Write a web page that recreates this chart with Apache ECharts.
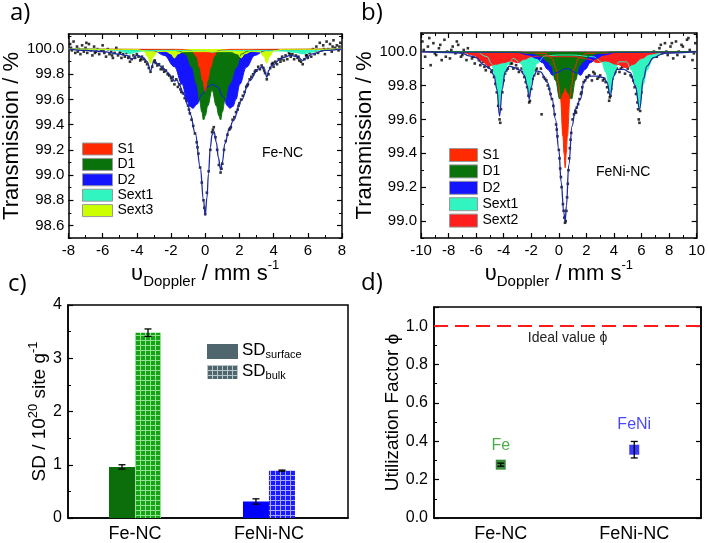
<!DOCTYPE html>
<html>
<head>
<meta charset="utf-8">
<script src="https://cdn.jsdelivr.net/npm/echarts@6/dist/echarts.min.js"></script>
<style>
html, body { margin: 0; padding: 0; background: #fff; }
#chart { width: 708px; height: 543px; }
</style>
</head>
<body>
<div id="chart"></div>
<script>
// ---------- panel a) Fe-NC spectrum ----------
var aD2 = [[-8,100],[-3.5,99.997],[-3,99.988],[-2.4,99.95],[-1.8,99.86],[-1.35,99.72],[-1.06,99.59],[-0.9,99.545],[-0.72,99.53],[-0.5,99.56],[-0.2,99.64],[0.15,99.7],[0.43,99.72],[0.71,99.7],[1.06,99.62],[1.3,99.55],[1.44,99.53],[1.62,99.545],[1.8,99.6],[2.02,99.72],[2.4,99.855],[2.9,99.95],[3.5,99.988],[4.2,99.997],[8,100]];
var aD1 = [[-8,100],[-2,99.995],[-1.5,99.985],[-1.16,99.96],[-0.77,99.855],[-0.49,99.72],[-0.33,99.59],[-0.2,99.5],[-0.1,99.437],[0,99.47],[0.15,99.55],[0.4,99.675],[0.65,99.55],[0.8,99.47],[0.9,99.437],[1,99.5],[1.15,99.59],[1.4,99.72],[1.83,99.855],[2.1,99.96],[2.5,99.985],[3,99.995],[8,100]];
var aS1 = [[-8,100],[-1.5,99.998],[-1,99.992],[-0.77,99.985],[-0.5,99.94],[-0.33,99.855],[-0.14,99.75],[0,99.665],[0.13,99.75],[0.32,99.855],[0.5,99.94],[0.7,99.985],[1,99.992],[1.5,99.998],[8,100]];
var aSext1 = [[-8,100],[-6,99.998],[-5.2,99.99],[-4.7,99.975],[-4.4,99.962],[-4.1,99.975],[-3.6,99.985],[-2.5,99.99],[0,99.985],[0.4,99.975],[0.8,99.985],[2.5,99.99],[4.5,99.985],[5.2,99.975],[5.7,99.962],[6.2,99.975],[6.7,99.99],[7.3,99.998],[8,100]];
var aSext3 = [[-8,100],[-4,99.998],[-3.6,99.985],[-3.35,99.94],[-3.2,99.885],[-3.05,99.94],[-2.8,99.98],[-2.3,99.982],[-2,99.962],[-1.8,99.93],[-1.6,99.962],[-1.3,99.98],[0,99.98],[1.5,99.98],[1.9,99.962],[2.1,99.93],[2.3,99.962],[2.7,99.982],[3.2,99.978],[3.45,99.94],[3.6,99.89],[3.75,99.94],[4,99.985],[4.5,99.998],[8,100]];
var aFit = [[-8,100],[-7,99.99],[-6,99.98],[-5,99.96],[-4.6,99.95],[-4.3,99.92],[-4,99.95],[-3.6,99.93],[-3.4,99.9],[-3.2,99.83],[-3,99.9],[-2.8,99.885],[-2.5,99.85],[-2.2,99.815],[-1.95,99.775],[-1.8,99.745],[-1.65,99.755],[-1.5,99.71],[-1.26,99.64],[-1,99.55],[-0.87,99.48],[-0.58,99.33],[-0.29,99.06],[-0.1,98.8],[0,98.68],[0.1,98.82],[0.19,99.01],[0.3,99.22],[0.4,99.32],[0.52,99.345],[0.65,99.26],[0.77,99.14],[0.9,99.04],[1,99.1],[1.15,99.25],[1.4,99.36],[1.63,99.43],[2.1,99.59],[2.6,99.75],[3.08,99.84],[3.37,99.86],[3.5,99.82],[3.6,99.775],[3.72,99.83],[3.9,99.87],[4.5,99.93],[5,99.95],[5.4,99.94],[5.7,99.91],[6,99.94],[6.2,99.96],[7,99.99],[8,100]];
var aPoints = [[-7.9,100.04],[-7.8,99.99],[-7.7,100.06],[-7.6,99.97],[-7.5,100.02],[-7.4,100.0],[-7.3,99.96],[-7.2,100.03],[-7.1,99.98],[-7.0,100.01],[-6.9,99.97],[-6.8,100.04],[-6.7,99.99],[-6.6,99.95],[-6.5,100.02],[-6.4,99.98],[-6.3,100.0],[-6.2,99.96],[-6.1,99.99],[-6.0,100.03],[-5.9,99.97],[-5.8,99.94],[-5.7,100.0],[-5.6,99.96],[-5.5,99.98],[-5.4,99.93],[-5.3,99.97],[-5.2,100.01],[-5.1,99.95],[-5.0,99.97],[-4.9,99.93],[-4.8,99.96],[-4.7,99.94],[-4.6,99.97],[-4.5,99.93],[-4.4,99.9],[-4.3,99.92],[-4.2,99.95],[-4.1,99.93],[-4.0,99.96],[-3.9,99.94],[-3.8,99.91],[-3.7,99.94],[-3.6,99.92],[-3.5,99.9],[-3.4,99.88],[-3.3,99.85],[-3.2,99.82],[-3.1,99.86],[-3.0,99.9],[-2.9,99.89],[-2.8,99.87],[-2.7,99.88],[-2.6,99.84],[-2.5,99.86],[-2.4,99.82],[-2.3,99.83],[-2.2,99.8],[-2.1,99.79],[-2.0,99.77],[-1.9,99.78],[-1.8,99.72],[-1.7,99.76],[-1.6,99.7],[-1.5,99.72],[-1.4,99.66],[-1.3,99.65],[-1.2,99.61],[-1.1,99.59],[-1.0,99.55],[-0.9,99.49],[-0.8,99.44],[-0.7,99.39],[-0.6,99.33],[-0.5,99.26],[-0.4,99.17],[-0.3,99.06],[-0.2,98.94],[-0.1,98.8],[0.0,98.69],[0.1,98.86],[0.2,99.03],[0.3,99.2],[0.4,99.34],[0.5,99.38],[0.6,99.3],[0.7,99.2],[0.8,99.08],[0.9,99.02],[1.0,99.09],[1.1,99.2],[1.2,99.27],[1.3,99.32],[1.4,99.36],[1.5,99.38],[1.6,99.44],[1.7,99.46],[1.8,99.5],[1.9,99.52],[2.0,99.57],[2.1,99.6],[2.2,99.63],[2.3,99.66],[2.4,99.7],[2.5,99.72],[2.6,99.76],[2.7,99.78],[2.8,99.8],[2.9,99.82],[3.0,99.83],[3.1,99.86],[3.2,99.84],[3.3,99.87],[3.4,99.85],[3.5,99.81],[3.6,99.76],[3.7,99.8],[3.8,99.85],[3.9,99.88],[4.0,99.86],[4.1,99.9],[4.2,99.88],[4.3,99.92],[4.4,99.9],[4.5,99.94],[4.6,99.91],[4.7,99.95],[4.8,99.92],[4.9,99.97],[5.0,99.94],[5.1,99.96],[5.2,99.92],[5.3,99.95],[5.4,99.93],[5.5,99.91],[5.6,99.9],[5.7,99.88],[5.8,99.92],[5.9,99.95],[6.0,99.93],[6.1,99.97],[6.2,99.94],[6.3,100.0],[6.4,99.96],[6.5,100.02],[6.6,99.97],[6.7,100.05],[6.8,99.99],[6.9,100.03],[7.0,99.96],[7.1,100.06],[7.2,100.0],[7.3,100.04],[7.4,99.98],[7.5,100.07],[7.6,100.01],[7.7,100.03],[7.8,99.99],[7.9,100.05],
  [-7.85,100.01],[-7.45,99.98],[-6.95,100.05],[-6.45,99.97],[-5.95,99.99],[-5.45,99.95],[-4.95,99.98],[-4.45,99.94],[-3.75,99.92],[-2.95,99.91],[-2.45,99.84],[-1.95,99.75],[-1.45,99.68],[-0.95,99.52],[-0.45,99.22],[-0.05,98.74],[0.45,99.36],[0.95,99.05],[1.45,99.37],[1.95,99.55],[2.45,99.71],[2.95,99.83],[3.45,99.83],[3.95,99.89],[4.45,99.92],[4.95,99.96],[5.45,99.94],[5.95,99.95],[6.45,99.99],[6.95,100.0],[7.45,100.02],[7.85,100.02]];
var aTicks = [98.6, 98.8, 99.0, 99.2, 99.4, 99.6, 99.8, 100.0];
var aMinor = [98.5, 98.7, 98.9, 99.1, 99.3, 99.5, 99.7, 99.9, 100.1];

// ---------- panel b) FeNi-NC spectrum ----------
var bSext1 = [[-10,100],[-6,99.998],[-5.2,99.97],[-4.9,99.93],[-4.6,99.85],[-4.45,99.76],[-4.34,99.68],[-4.2,99.76],[-4,99.85],[-3.75,99.92],[-3.3,99.96],[-2.75,99.93],[-2.45,99.86],[-2.15,99.75],[-1.9,99.86],[-1.6,99.93],[-1,99.975],[0,99.98],[1,99.98],[2.5,99.97],[3.1,99.94],[3.4,99.88],[3.73,99.75],[4.05,99.88],[4.35,99.94],[4.9,99.94],[5.3,99.89],[5.6,99.8],[5.86,99.66],[6.1,99.8],[6.4,99.89],[6.8,99.96],[7.5,99.995],[10,100]];
var bS1 = [[-10,100],[-1,99.99],[-0.5,99.96],[-0.2,99.9],[0,99.8],[0.12,99.72],[0.3,99.5],[0.38,99.4],[0.46,99.315],[0.54,99.4],[0.62,99.5],[0.8,99.72],[0.92,99.8],[1.12,99.9],[1.42,99.96],[2,99.99],[10,100]];
var bSext2 = [[-10,100],[-7,99.995],[-6.2,99.98],[-5.6,99.945],[-5.1,99.915],[-4.6,99.925],[-4,99.935],[-3.5,99.945],[-3,99.935],[-2.5,99.955],[-2,99.97],[-1.2,99.975],[0,99.97],[1.2,99.97],[2.2,99.955],[2.8,99.935],[3.4,99.945],[4.2,99.925],[4.9,99.905],[5.4,99.925],[6,99.96],[6.6,99.985],[7.4,99.995],[10,100]];
var bD2 = [[-10,100],[-3,99.995],[-2.2,99.98],[-1.6,99.96],[-1.2,99.935],[-0.8,99.895],[-0.45,99.86],[-0.25,99.875],[0.6,99.9],[1.3,99.875],[1.57,99.86],[1.9,99.895],[2.3,99.935],[2.7,99.96],[3.3,99.98],[4.1,99.995],[10,100]];
var bD1 = [[-10,100],[-3,99.998],[-2,99.99],[-1.3,99.975],[-0.8,99.94],[-0.55,99.915],[-0.24,99.83],[0.07,99.72],[0.27,99.755],[0.46,99.79],[0.68,99.755],[0.92,99.72],[1.2,99.83],[1.5,99.915],[1.75,99.94],[2.2,99.975],[2.9,99.99],[3.9,99.998],[10,100]];
var bFit = [[-10,100],[-8,99.995],[-7,99.99],[-6.5,99.975],[-6,99.965],[-5.5,99.925],[-5,99.9],[-4.7,99.86],[-4.5,99.78],[-4.3,99.62],[-4.1,99.78],[-3.9,99.88],[-3.6,99.915],[-3.2,99.905],[-2.8,99.89],[-2.5,99.86],[-2.3,99.8],[-2.15,99.72],[-2,99.79],[-1.8,99.86],[-1.6,99.886],[-1.33,99.88],[-0.84,99.82],[-0.48,99.72],[-0.24,99.6],[0,99.42],[0.17,99.23],[0.36,99.05],[0.46,99.0],[0.55,99.09],[0.72,99.33],[0.96,99.56],[1.2,99.66],[1.57,99.72],[1.81,99.82],[2.17,99.856],[2.77,99.856],[3.25,99.846],[3.49,99.82],[3.73,99.74],[3.98,99.856],[4.22,99.895],[4.7,99.895],[5.18,99.876],[5.54,99.8],[5.86,99.66],[6.14,99.84],[6.39,99.915],[6.87,99.965],[7.6,99.99],[10,100]];
var bPoints = [[-9.9,100.06],[-9.7,99.97],[-9.5,100.03],[-9.3,99.92],[-9.1,100.05],[-8.9,99.98],[-8.7,100.02],[-8.5,99.95],[-8.3,100.07],[-8.1,100.0],[-7.9,99.96],[-7.7,100.03],[-7.5,99.99],[-7.3,100.04],[-7.1,99.97],[-6.9,100.01],[-6.7,99.95],[-6.5,99.99],[-6.3,99.96],[-6.1,99.93],[-5.9,99.97],[-5.7,99.92],[-5.5,99.94],[-5.3,99.89],[-5.1,99.91],[-4.9,99.88],[-4.7,99.85],[-4.6,99.81],[-4.5,99.76],[-4.4,99.68],[-4.3,99.6],[-4.2,99.66],[-4.1,99.76],[-4.0,99.83],[-3.9,99.87],[-3.7,99.9],[-3.5,99.93],[-3.3,99.9],[-3.1,99.92],[-2.9,99.88],[-2.7,99.9],[-2.5,99.85],[-2.4,99.82],[-2.3,99.79],[-2.2,99.74],[-2.1,99.71],[-2.0,99.78],[-1.9,99.84],[-1.8,99.86],[-1.7,99.89],[-1.5,99.87],[-1.25,99.63],[-1.3,99.9],[-1.1,99.85],[-0.9,99.83],[-0.7,99.78],[-0.6,99.75],[-0.5,99.72],[-0.4,99.68],[-0.3,99.63],[-0.2,99.57],[-0.1,99.5],[0.0,99.42],[0.1,99.31],[0.2,99.2],[0.3,99.1],[0.4,99.02],[0.5,99.0],[0.6,99.14],[0.7,99.3],[0.8,99.43],[0.9,99.52],[1.0,99.6],[1.1,99.63],[1.2,99.65],[1.3,99.67],[1.4,99.69],[1.5,99.72],[1.6,99.75],[1.7,99.79],[1.8,99.82],[1.9,99.83],[2.0,99.85],[2.2,99.86],[2.4,99.83],[2.6,99.87],[2.8,99.84],[3.0,99.86],[3.2,99.83],[3.4,99.82],[3.5,99.79],[3.6,99.76],[3.7,99.73],[3.8,99.78],[3.9,99.84],[4.0,99.87],[4.2,99.9],[4.4,99.88],[4.6,99.91],[4.8,99.87],[5.0,99.9],[5.2,99.86],[5.4,99.83],[5.5,99.79],[5.6,99.75],[5.7,99.7],[5.8,99.6],[5.9,99.65],[6.0,99.76],[6.1,99.83],[6.3,99.9],[6.5,99.93],[6.7,99.96],[6.9,100.0],[7.1,99.97],[7.3,100.02],[7.5,99.99],[7.7,100.05],[7.9,99.98],[8.1,100.03],[8.3,99.96],[8.5,100.06],[8.7,100.0],[8.9,100.04],[9.1,99.97],[9.3,100.07],[9.5,100.01],[9.7,99.95],[9.9,100.05],
  [-9.8,100.01],[-9.4,100.08],[-9.0,99.99],[-8.6,100.04],[-8.2,99.97],[-7.8,100.01],[-7.4,100.06],[-7.0,99.98],[-6.6,100.02],[-6.2,99.97],[-5.8,99.95],[-5.4,99.91],[-5.0,99.93],[-4.8,99.89],[-4.25,99.58],[-3.8,99.89],[-3.4,99.93],[-3.0,99.9],[-2.6,99.88],[-2.15,99.7],[-1.6,99.9],[-1.0,99.84],[-0.8,99.8],[-0.15,99.54],[0.05,99.37],[0.15,99.26],[0.35,99.06],[0.45,98.99],[0.55,99.06],[0.65,99.22],[0.75,99.37],[0.85,99.48],[1.25,99.64],[1.65,99.76],[2.1,99.85],[2.5,99.88],[2.9,99.85],[3.3,99.84],[3.65,99.71],[3.75,99.74],[4.1,99.88],[4.5,99.9],[4.9,99.92],[5.3,99.85],[5.75,99.66],[5.85,99.58],[6.2,99.87],[6.6,99.97],[7.0,99.99],[7.4,100.04],[7.8,100.0],[8.2,100.05],[8.6,99.98],[9.0,100.03],[9.4,100.08],[9.8,99.99]];
var bTicks = [99.0, 99.2, 99.4, 99.6, 99.8, 100.0];
var bMinor = [98.9, 99.1, 99.3, 99.5, 99.7, 99.9, 100.1];

// ---------- panels c) and d) ----------
var samples = ['Fe-NC', 'FeNi-NC'];
var sdSurface = [0.96, 0.31];
var sdSurfaceErr = [0.04, 0.05];
var sdBulk = [3.48, 0.89];
var sdBulkErr = [0.07, 0.01];
var phiValue = [0.278, 0.356];
var phiErr = [0.008, 0.043];
var phiIdeal = 1.0;

var FONT = '"Liberation Sans", Arial, sans-serif';
var C = {
  S1: '#ff2a00', D1: '#0a720a', D2: '#1414ff', Sext1: '#30f5c0', Sext2: '#ff1e1e', Sext3: '#ccff00',
  fit: '#1c2a9c'
};

var myChart = echarts.init(document.getElementById('chart'));

function gridPattern(base, line) {
  var c = document.createElement('canvas');
  c.width = 5; c.height = 5;
  var ctx = c.getContext('2d');
  ctx.fillStyle = base; ctx.fillRect(0, 0, 5, 5);
  ctx.fillStyle = line; ctx.fillRect(0, 0, 5, 1); ctx.fillRect(0, 0, 1, 5);
  return { image: c, repeat: 'repeat' };
}

var xName = '{m|υ}{s|Doppler}{m| / mm s}{p|-1}';
var xNameStyle = {
  color: '#000',
  rich: {
    m: { fontSize: 22, lineHeight: 30, fontFamily: FONT, color: '#000' },
    s: { fontSize: 15, lineHeight: 14, verticalAlign: 'bottom', fontFamily: FONT, color: '#000' },
    p: { fontSize: 13, lineHeight: 14, verticalAlign: 'top', fontFamily: FONT, color: '#000' }
  }
};

function specX(gi, min, max, bottom) {
  return {
    type: 'value', gridIndex: gi, position: bottom ? 'bottom' : 'top', min: min, max: max, interval: 2,
    axisLine: { show: true, onZero: false, lineStyle: { color: '#000', width: 1.5 } },
    axisTick: { show: true, inside: true, length: 5, lineStyle: { color: '#000', width: 1.2 } },
    minorTick: { show: true, splitNumber: 2, length: 3, lineStyle: { color: '#000', width: 1 } },
    axisLabel: { show: bottom, color: '#000', fontSize: 15, margin: 5, fontFamily: FONT },
    splitLine: { show: false },
    name: bottom ? xName : '', nameLocation: 'middle', nameGap: 7, nameTextStyle: xNameStyle
  };
}

function specY(gi, min, max, pos, ticks, len, main, name, gap) {
  return {
    type: 'value', gridIndex: gi, position: pos, min: min, max: max,
    axisLine: { show: main, onZero: false, lineStyle: { color: '#000', width: 1.5 } },
    axisTick: { show: true, inside: true, length: len, customValues: ticks, lineStyle: { color: '#000', width: len > 4 ? 1.2 : 1 } },
    axisLabel: { show: !!name, customValues: ticks, formatter: function (v) { return v.toFixed(1); }, color: '#000', fontSize: 15, margin: 4, fontFamily: FONT },
    splitLine: { show: false },
    name: name || '', nameLocation: 'middle', nameGap: gap || 0,
    nameTextStyle: { fontSize: 22, color: '#000', fontFamily: FONT }
  };
}

function comp(name, data, xi, yi) {
  return {
    name: name, type: 'line', xAxisIndex: xi, yAxisIndex: yi, data: data,
    smooth: 0.4, smoothMonotone: 'x', showSymbol: false, symbol: 'none', color: C[name],
    lineStyle: { color: C[name], width: 1 },
    areaStyle: { origin: 100, color: C[name], opacity: 1 },
    silent: true
  };
}

function dots(data, xi, yi) {
  return { type: 'scatter', xAxisIndex: xi, yAxisIndex: yi, data: data, symbol: 'rect', symbolSize: 2.6,
    itemStyle: { color: '#000' }, silent: true };
}

function fitLine(data, xi, yi) {
  return { type: 'line', xAxisIndex: xi, yAxisIndex: yi, data: data, smooth: 0.4, smoothMonotone: 'x',
    showSymbol: false, symbol: 'none', lineStyle: { color: C.fit, width: 1.3 }, silent: true };
}

function errRender(offset, cap) {
  return function (params, api) {
    var lo = api.coord([api.value(0), api.value(1)]);
    var hi = api.coord([api.value(0), api.value(2)]);
    var cx = lo[0] + offset;
    var st = { stroke: '#000', lineWidth: 1.3 };
    return {
      type: 'group', children: [
        { type: 'line', shape: { x1: cx, y1: lo[1], x2: cx, y2: hi[1] }, style: st },
        { type: 'line', shape: { x1: cx - cap, y1: lo[1], x2: cx + cap, y2: lo[1] }, style: st },
        { type: 'line', shape: { x1: cx - cap, y1: hi[1], x2: cx + cap, y2: hi[1] }, style: st }
      ]
    };
  };
}

function errData(vals, errs) {
  return vals.map(function (v, i) { return [i, v - errs[i], v + errs[i]]; });
}

var greenBulk = gridPattern('#17a117', '#8fe58f');
var blueBulk = gridPattern('#1a1aff', '#a8a8ff');
var greyBulk = gridPattern('#50666e', '#b8c6ca');

var option = {
  animation: false,
  backgroundColor: '#fff',
  textStyle: { fontFamily: FONT },
  grid: [
    { left: 63, top: 34, width: 279, height: 204, show: false },
    { left: 421, top: 33, width: 278, height: 205, show: false },
    { left: 68, top: 305, width: 280, height: 214, show: true, borderColor: '#000', borderWidth: 1.5 },
    { left: 434, top: 307, width: 267, height: 215, show: true, borderColor: '#000', borderWidth: 1.5 }
  ],
  legend: [
    {
      data: ['S1', 'D1', 'D2', 'Sext1', 'Sext3'], left: 77, top: 137, orient: 'vertical',
      icon: 'rect', itemWidth: 30, itemHeight: 12, itemGap: 1.4,
      itemStyle: { borderColor: '#999', borderWidth: 1 },
      textStyle: { fontSize: 14, color: '#000', lineHeight: 12, fontFamily: FONT }
    },
    {
      data: ['S1', 'D1', 'D2', 'Sext1', 'Sext2'], left: 444, top: 143, orient: 'vertical',
      icon: 'rect', itemWidth: 28, itemHeight: 13, itemGap: 2.4,
      itemStyle: { borderColor: '#999', borderWidth: 1 },
      textStyle: { fontSize: 14, color: '#000', lineHeight: 13, fontFamily: FONT }
    }
  ],
  xAxis: [
    specX(0, -8, 8, true),
    specX(0, -8, 8, false),
    specX(1, -10, 10, true),
    specX(1, -10, 10, false),
    {
      // samples sit at 0 and 1; the range places them where the original draws them
      type: 'value', gridIndex: 2, min: -0.5, max: 1.59,
      axisLine: { onZero: false, lineStyle: { color: '#000', width: 1.5 } },
      axisTick: { show: false },
      axisLabel: { customValues: [0, 1], formatter: function (v) { return samples[Math.round(v)]; },
        color: '#000', fontSize: 18, margin: 7, fontFamily: FONT },
      splitLine: { show: false }
    },
    {
      type: 'category', gridIndex: 3, data: samples,
      axisLine: { lineStyle: { color: '#000', width: 1.5 } },
      axisTick: { show: false },
      axisLabel: { color: '#000', fontSize: 18, margin: 7, fontFamily: FONT }
    }
  ],
  yAxis: [
    specY(0, 98.5, 100.12, 'left', aTicks, 5, true, 'Transmission / %', 40),
    specY(0, 98.5, 100.12, 'left', aMinor, 3, false),
    specY(0, 98.5, 100.12, 'right', aTicks, 5, true),
    specY(0, 98.5, 100.12, 'right', aMinor, 3, false),
    specY(1, 98.9, 100.11, 'left', bTicks, 5, true, 'Transmission / %', 45),
    specY(1, 98.9, 100.11, 'left', bMinor, 3, false),
    specY(1, 98.9, 100.11, 'right', bTicks, 5, true),
    specY(1, 98.9, 100.11, 'right', bMinor, 3, false),
    {
      type: 'value', gridIndex: 2, position: 'left', min: 0, max: 4, interval: 1,
      axisLine: { show: true, onZero: false, lineStyle: { color: '#000', width: 1.5 } },
      axisTick: { show: true, inside: true, length: 5, lineStyle: { color: '#000', width: 1.2 } },
      minorTick: { show: true, splitNumber: 2, length: 3, lineStyle: { color: '#000' } },
      axisLabel: { color: '#000', fontSize: 16, margin: 6, fontFamily: FONT },
      splitLine: { show: false },
      name: '{t|SD / 10}{p|20}{t| site g}{p|-1}', nameLocation: 'middle', nameGap: 15,
      nameTextStyle: {
        rich: {
          t: { fontSize: 19, lineHeight: 26, color: '#000', fontFamily: FONT },
          p: { fontSize: 13, lineHeight: 13, verticalAlign: 'top', color: '#000', fontFamily: FONT }
        }
      }
    },
    {
      type: 'value', gridIndex: 3, min: 0, max: 1.1, interval: 0.2,
      axisLine: { show: true, lineStyle: { color: '#000', width: 1.5 } },
      axisTick: { show: true, inside: true, length: 5, lineStyle: { color: '#000', width: 1.2 } },
      minorTick: { show: true, splitNumber: 2, length: 3, lineStyle: { color: '#000' } },
      axisLabel: { color: '#000', fontSize: 16, margin: 6, showMaxLabel: false, fontFamily: FONT,
        formatter: function (v) { return v.toFixed(1); } },
      splitLine: { show: false },
      name: 'Utilization Factor ϕ', nameLocation: 'middle', nameGap: 28,
      nameTextStyle: { fontSize: 19, color: '#000', fontFamily: FONT }
    },
    {
      type: 'value', gridIndex: 3, position: 'right', min: 0, max: 1.1, interval: 0.2,
      axisLine: { show: true, lineStyle: { color: '#000', width: 1.5 } },
      axisTick: { show: true, inside: true, length: 5, lineStyle: { color: '#000', width: 1.2 } },
      axisLabel: { show: false }, splitLine: { show: false }
    }
  ],
  graphic: [
    { type: 'text', left: 10, top: 1, style: { text: 'a)', font: '24px "Open Sans", sans-serif', fill: '#000' } },
    { type: 'text', left: 361, top: 1, style: { text: 'b)', font: '24px "Open Sans", sans-serif', fill: '#000' } },
    { type: 'text', left: 8, top: 272, style: { text: 'c)', font: '24px "Open Sans", sans-serif', fill: '#000' } },
    { type: 'text', left: 361, top: 271, style: { text: 'd)', font: '24px "Open Sans", sans-serif', fill: '#000' } },
    { type: 'text', left: 262, top: 146, style: { text: 'Fe-NC', font: '14px ' + FONT, fill: '#000' } },
    { type: 'text', left: 596, top: 165, style: { text: 'FeNi-NC', font: '14px ' + FONT, fill: '#000' } },
    { type: 'rect', left: 207, top: 344, shape: { width: 31, height: 15 }, style: { fill: '#50666e' } },
    { type: 'rect', left: 207, top: 365, shape: { width: 31, height: 14 }, style: { fill: greyBulk } },
    {
      type: 'text', left: 242, top: 342,
      style: { text: '{m|SD}{s|surface}', rich: {
        m: { fontSize: 17, lineHeight: 20, fontFamily: FONT, fill: '#000' },
        s: { fontSize: 11, lineHeight: 11, verticalAlign: 'bottom', fontFamily: FONT, fill: '#000' } } }
    },
    {
      type: 'text', left: 242, top: 363,
      style: { text: '{m|SD}{s|bulk}', rich: {
        m: { fontSize: 17, lineHeight: 20, fontFamily: FONT, fill: '#000' },
        s: { fontSize: 11, lineHeight: 11, verticalAlign: 'bottom', fontFamily: FONT, fill: '#000' } } }
    }
  ],
  series: [
    // a)
    comp('D2', aD2, 0, 0),
    comp('D1', aD1, 0, 0),
    comp('S1', aS1, 0, 0),
    comp('Sext1', aSext1, 0, 0),
    comp('Sext3', aSext3, 0, 0),
    dots(aPoints, 0, 0),
    fitLine(aFit, 0, 0),
    // b)
    comp('Sext1', bSext1, 2, 4),
    comp('S1', bS1, 2, 4),
    comp('Sext2', bSext2, 2, 4),
    comp('D2', bD2, 2, 4),
    comp('D1', bD1, 2, 4),
    dots(bPoints, 2, 4),
    fitLine(bFit, 2, 4),
    // c)
    {
      name: 'SD surface', type: 'bar', xAxisIndex: 4, yAxisIndex: 8, barWidth: 26, barGap: '0%',
      data: sdSurface.map(function (v, i) { return { value: [i, v], itemStyle: { color: i === 0 ? '#0b6e0b' : '#0000ff' } }; })
    },
    {
      name: 'SD bulk', type: 'bar', xAxisIndex: 4, yAxisIndex: 8, barWidth: 26, barGap: '0%',
      data: sdBulk.map(function (v, i) { return { value: [i, v], itemStyle: { color: i === 0 ? greenBulk : blueBulk } }; })
    },
    { type: 'custom', xAxisIndex: 4, yAxisIndex: 8, renderItem: errRender(-13, 3.5), data: errData(sdSurface, sdSurfaceErr), encode: { x: 0, y: [1, 2] }, z: 5 },
    { type: 'custom', xAxisIndex: 4, yAxisIndex: 8, renderItem: errRender(13, 3.5), data: errData(sdBulk, sdBulkErr), encode: { x: 0, y: [1, 2] }, z: 5 },
    // d)
    {
      type: 'scatter', xAxisIndex: 5, yAxisIndex: 9, symbol: 'rect', symbolSize: 10,
      data: [[0, phiValue[0]]], itemStyle: { color: '#0b6e0b' },
      label: { show: true, position: 'top', distance: 6, formatter: 'Fe', color: '#1f9a1f', fontSize: 16, fontFamily: FONT },
      markLine: {
        silent: true, symbol: 'none', data: [{ yAxis: phiIdeal }],
        lineStyle: { color: '#ff1a1a', type: [14, 7], width: 2.2 },
        label: { show: true, position: 'insideMiddleBottom', formatter: 'Ideal value ϕ', color: '#222', fontSize: 14, distance: 5, fontFamily: FONT }
      }
    },
    {
      type: 'scatter', xAxisIndex: 5, yAxisIndex: 9, symbol: 'rect', symbolSize: 10,
      data: [[1, phiValue[1]]], itemStyle: { color: '#0a0aff' },
      label: { show: true, position: 'top', distance: 12, formatter: 'FeNi', color: '#1a1aff', fontSize: 16, fontFamily: FONT }
    },
    { type: 'custom', xAxisIndex: 5, yAxisIndex: 9, renderItem: errRender(0, 3.5), data: errData(phiValue, phiErr), encode: { x: 0, y: [1, 2] }, z: 5 }
  ]
};

myChart.setOption(option);
</script>
</body>
</html>
